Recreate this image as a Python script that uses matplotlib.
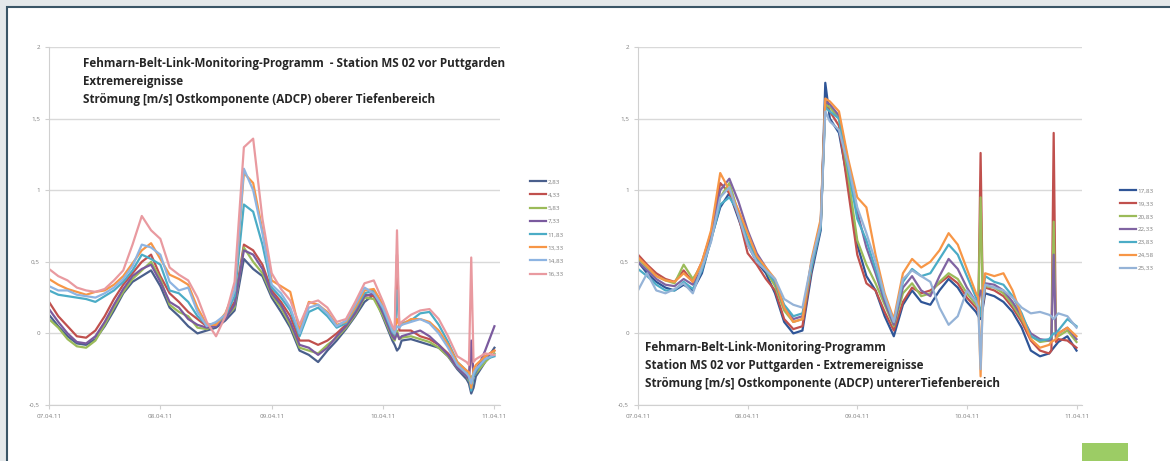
import matplotlib.pyplot as plt
from matplotlib.patches import Rectangle
from matplotlib.ticker import FuncFormatter

plt.rcParams['font.family'] = ['Open Sans', 'DejaVu Sans']

# x-Achse: Tage ab 07.04.11
date_labels = ['07.04.11', '08.04.11', '09.04.11', '10.04.11', '11.04.11']

# ---- oberer Tiefenbereich (links), Stunden ab 07.04.11 00:00 ----
left_hours = [0, 2, 4, 6, 8, 10, 12, 14, 16, 18, 20, 22, 24, 26, 28, 30, 32, 34, 36, 38,
              40, 42, 44, 46, 48, 50, 52, 54, 56, 58, 60, 62, 64, 66, 68, 70, 72, 74,
              74.5, 75, 75.5, 76, 78, 80, 82, 84, 86, 88, 90, 90.5, 91, 91.5, 92, 94, 96]
left_labels = ['2,83', '4,33', '5,83', '7,33', '11,83', '13,33', '14,83', '16,33']
left_colors = ['#4a5f8c', '#c0504d', '#9bbb59', '#7a5a9e', '#4bacc6', '#f79646', '#8db4e2', '#e99aa0']

l_283 = [.13, .05, -.02, -.07, -.08, -.04, .05, .16, .28, .36, .40, .44, .33, .18, .12, .05, .0, .02, .04, .09,
         .16, .52, .45, .40, .25, .15, .04, -.12, -.15, -.20, -.12, -.05, .03, .12, .22, .27, .11, -.05,
         -.08, -.12, -.10, -.05, -.04, -.06, -.08, -.10, -.16, -.25, -.32, -.35, -.42, -.38, -.30, -.20, -.10]
l_433 = [.22, .12, .05, -.02, -.03, .02, .12, .24, .34, .42, .50, .55, .40, .28, .22, .15, .10, .05, .06, .12,
         .22, .62, .58, .48, .30, .22, .12, -.05, -.05, -.08, -.05, .0, .06, .15, .27, .26, .15, .0,
         -.02, .55, .02, .02, .02, -.02, -.04, -.08, -.14, -.22, -.28, -.30, -.10, -.28, -.25, -.16, -.12]
l_583 = [.10, .04, -.04, -.09, -.10, -.05, .06, .18, .29, .38, .44, .50, .38, .20, .15, .12, .04, .03, .06, .11,
         .18, .60, .50, .42, .27, .18, .06, -.10, -.12, -.14, -.08, -.03, .04, .13, .25, .24, .12, -.03,
         -.05, .02, -.04, -.03, -.02, -.04, -.06, -.10, -.16, -.24, -.30, -.33, -.30, -.30, -.28, -.20, -.14]
l_733 = [.17, .08, .0, -.06, -.07, -.02, .08, .20, .31, .40, .45, .48, .36, .22, .18, .10, .06, .04, .05, .10,
         .20, .58, .55, .45, .28, .20, .08, -.08, -.10, -.15, -.10, -.02, .05, .14, .26, .28, .14, -.02,
         -.04, .0, -.04, -.02, .0, .02, -.02, -.08, -.15, -.24, -.30, -.32, -.05, -.30, -.27, -.12, .05]
l_1183 = [.30, .27, .26, .25, .24, .22, .26, .30, .36, .44, .55, .52, .48, .30, .28, .22, .12, .06, .07, .12,
          .26, .90, .85, .62, .32, .25, .16, -.02, .15, .18, .12, .04, .07, .17, .28, .30, .17, .01,
          -.01, .30, .05, .07, .09, .14, .15, .06, -.06, -.20, -.26, -.30, -.40, -.30, -.26, -.18, -.16]
l_1333 = [.38, .34, .31, .29, .27, .29, .30, .34, .40, .49, .58, .63, .52, .41, .38, .34, .18, .06, .06, .14,
          .30, 1.12, 1.05, .72, .37, .33, .29, .02, .22, .20, .15, .06, .08, .18, .30, .31, .20, .03,
          .0, .10, .06, .06, .10, .10, .08, .02, -.08, -.20, -.26, -.27, -.38, -.25, -.22, -.16, -.12]
l_1483 = [.33, .30, .30, .27, .26, .25, .28, .32, .38, .47, .62, .60, .55, .36, .30, .32, .15, .05, .08, .13,
          .30, 1.15, 1.00, .70, .34, .28, .18, .0, .18, .20, .14, .05, .09, .20, .32, .28, .18, .02,
          .0, .05, .04, .06, .08, .10, .07, .0, -.10, -.22, -.28, -.30, -.35, -.28, -.25, -.18, -.15]
l_1633 = [.45, .40, .37, .32, .30, .29, .31, .37, .44, .62, .82, .72, .66, .46, .41, .37, .25, .08, -.02, .12,
          .36, 1.30, 1.36, .80, .42, .31, .23, .06, .21, .23, .18, .08, .10, .22, .35, .37, .22, .05,
          .03, .72, .06, .08, .13, .16, .17, .10, -.02, -.16, -.20, -.22, .53, -.20, -.18, -.14, -.15]
left_series = [l_283, l_433, l_583, l_733, l_1183, l_1333, l_1483, l_1633]

# ---- unterer Tiefenbereich (rechts) ----
right_hours = [0, 2, 4, 6, 8, 10, 12, 14, 16, 18, 20, 22, 24, 26, 28, 30, 32, 34, 36, 38, 40,
               41, 42, 44, 46, 48, 50, 52, 54, 56, 58, 60, 62, 64, 66, 68, 70, 72, 74,
               74.5, 75, 75.5, 76, 78, 80, 82, 84, 86, 88, 90, 90.5, 91, 91.5, 92, 94, 96]
right_labels = ['17,83', '19,33', '20,83', '22,33', '23,83', '24,58', '25,33']
right_colors = ['#2f5597', '#c0504d', '#9bbb59', '#8064a2', '#4bacc6', '#f79646', '#95b3d7']

r_1783 = [.50, .42, .36, .32, .30, .34, .30, .42, .66, .88, .98, .80, .62, .50, .42, .28, .08, .0, .02, .42, .72,
          1.75, 1.50, 1.40, 1.05, .62, .40, .30, .12, -.02, .20, .30, .22, .20, .30, .38, .32, .22, .15,
          .12, .10, .18, .28, .26, .22, .15, .04, -.12, -.16, -.14, -.12, -.10, -.08, -.06, -.02, -.12]
r_1933 = [.55, .48, .42, .38, .36, .44, .36, .50, .70, 1.05, .98, .82, .56, .48, .38, .30, .10, .03, .05, .45, .75,
          1.62, 1.55, 1.45, 1.00, .55, .35, .30, .15, .02, .22, .32, .28, .30, .35, .40, .35, .25, .18,
          .15, 1.26, .20, .32, .30, .26, .18, .08, -.05, -.12, -.14, -.12, 1.40, -.06, -.04, -.05, -.10]
r_2083 = [.52, .46, .40, .37, .35, .48, .38, .48, .69, .95, 1.05, .84, .64, .52, .44, .33, .16, .08, .10, .48, .76,
          1.60, 1.58, 1.50, 1.10, .65, .48, .35, .20, .05, .28, .35, .26, .28, .36, .42, .38, .28, .20,
          .18, .95, .22, .33, .32, .28, .20, .10, -.02, -.06, -.05, -.04, .78, -.03, -.02, .02, -.06]
r_2233 = [.50, .44, .38, .34, .33, .38, .34, .45, .68, 1.00, 1.08, .92, .72, .56, .46, .36, .18, .10, .12, .50, .78,
          1.62, 1.60, 1.52, 1.20, .85, .60, .42, .22, .06, .32, .40, .30, .26, .40, .52, .45, .32, .22,
          .20, .30, .25, .35, .34, .30, .22, .12, .0, -.04, -.05, -.04, .55, -.02, .0, .04, -.04]
r_2383 = [.45, .40, .34, .30, .30, .36, .31, .44, .65, .90, .95, .85, .66, .52, .44, .36, .20, .12, .14, .46, .74,
          1.58, 1.55, 1.50, 1.15, .80, .65, .45, .25, .08, .36, .45, .40, .42, .52, .62, .55, .40, .25,
          .22, .12, .28, .40, .36, .34, .26, .14, -.02, -.05, -.04, -.02, .0, .0, .02, .10, .05]
r_2458 = [.53, .47, .40, .37, .36, .42, .36, .50, .72, 1.12, 1.00, .86, .70, .54, .46, .38, .18, .08, .10, .52, .80,
          1.64, 1.62, 1.55, 1.22, .95, .88, .55, .28, .10, .42, .52, .46, .50, .58, .70, .62, .45, .28,
          .25, -.30, .30, .42, .40, .42, .30, .12, -.04, -.10, -.08, -.06, -.05, -.04, .0, .04, -.02]
r_2533 = [.30, .42, .30, .28, .31, .35, .28, .46, .64, .95, 1.02, .82, .62, .50, .44, .38, .24, .20, .18, .50, .76,
          1.55, 1.48, 1.42, 1.18, .88, .70, .50, .26, .08, .38, .44, .40, .36, .18, .06, .12, .30, .22,
          .18, -.25, .22, .34, .32, .30, .25, .18, .14, .15, .13, .12, .10, .12, .14, .12, .04]
right_series = [r_1783, r_1933, r_2083, r_2233, r_2383, r_2458, r_2533]

W, H = 1170, 461
fig = plt.figure(figsize=(W / 100, H / 100), dpi=100)
fig.patch.set_facecolor('#e4e8ea')
# weisses Panel mit dunklem Rand (hinter den Achsen)
fig.patches.append(Rectangle((7 / W, -0.1), 1.1, 1 - 7 / H + 0.1, transform=fig.transFigure,
                             facecolor='white', edgecolor='#3a5566', lw=1.5, zorder=-2))
fig.patches.append(Rectangle((1082 / W, 0), 46 / W, 18 / H, transform=fig.transFigure,
                             facecolor='#9ccc65', edgecolor='none', zorder=-1))

comma = FuncFormatter(lambda v, p: ('%g' % v).replace('.', ','))


def style_axes(ax):
    ax.set_facecolor('none')
    ax.set_zorder(2)
    ax.set_xlim(0, 4.05)
    ax.set_ylim(-0.5, 2)
    ax.set_yticks([-0.5, 0, 0.5, 1, 1.5, 2])
    ax.yaxis.set_major_formatter(comma)
    ax.set_xticks(range(5))
    ax.set_xticklabels(date_labels)
    ax.grid(axis='y', color='#d9d9d9', lw=1)
    ax.set_axisbelow(True)
    for s in ['top', 'right']:
        ax.spines[s].set_visible(False)
    for s in ['left', 'bottom']:
        ax.spines[s].set_color('#d0d0d0')
    ax.tick_params(labelsize=4.5, labelcolor='#7f7f7f', color='#d0d0d0', length=3)


axl = fig.add_axes([49 / W, 56 / H, 451 / W, 358 / H])
axr = fig.add_axes([638 / W, 56 / H, 444 / W, 358 / H])

for vals, lab, col in zip(left_series, left_labels, left_colors):
    axl.plot([h / 24 for h in left_hours], vals, color=col, lw=1.6, label=lab)
for vals, lab, col in zip(right_series, right_labels, right_colors):
    axr.plot([h / 24 for h in right_hours], vals, color=col, lw=1.6, label=lab)

for ax in (axl, axr):
    style_axes(ax)

axl.legend(loc='upper left', bbox_to_anchor=(527 / W, 1 - 176 / H), bbox_transform=fig.transFigure,
           frameon=False, fontsize=4.5, handlelength=2.5, handletextpad=0.3, labelspacing=1.25,
           borderpad=0, labelcolor='#7f7f7f')
axr.legend(loc='upper left', bbox_to_anchor=(1117 / W, 1 - 185 / H), bbox_transform=fig.transFigure,
           frameon=False, fontsize=4.5, handlelength=2.5, handletextpad=0.3, labelspacing=1.2,
           borderpad=0, labelcolor='#7f7f7f')

fig.text(83 / W, 1 - 57 / H,
         'Fehmarn-Belt-Link-Monitoring-Programm  - Station MS 02 vor Puttgarden\n'
         'Extremereignisse\n'
         'Strömung [m/s] Ostkomponente (ADCP) oberer Tiefenbereich',
         fontsize=8.4, fontweight='bold', color='#262626', va='top', linespacing=1.5, zorder=3)
fig.text(645 / W, 1 - 341 / H,
         'Fehmarn-Belt-Link-Monitoring-Programm\n'
         'Station MS 02 vor Puttgarden - Extremereignisse\n'
         'Strömung [m/s] Ostkomponente (ADCP) untererTiefenbereich',
         fontsize=8.4, fontweight='bold', color='#262626', va='top', linespacing=1.5, zorder=3)

fig.savefig('out.png', dpi=100, facecolor=fig.get_facecolor())
